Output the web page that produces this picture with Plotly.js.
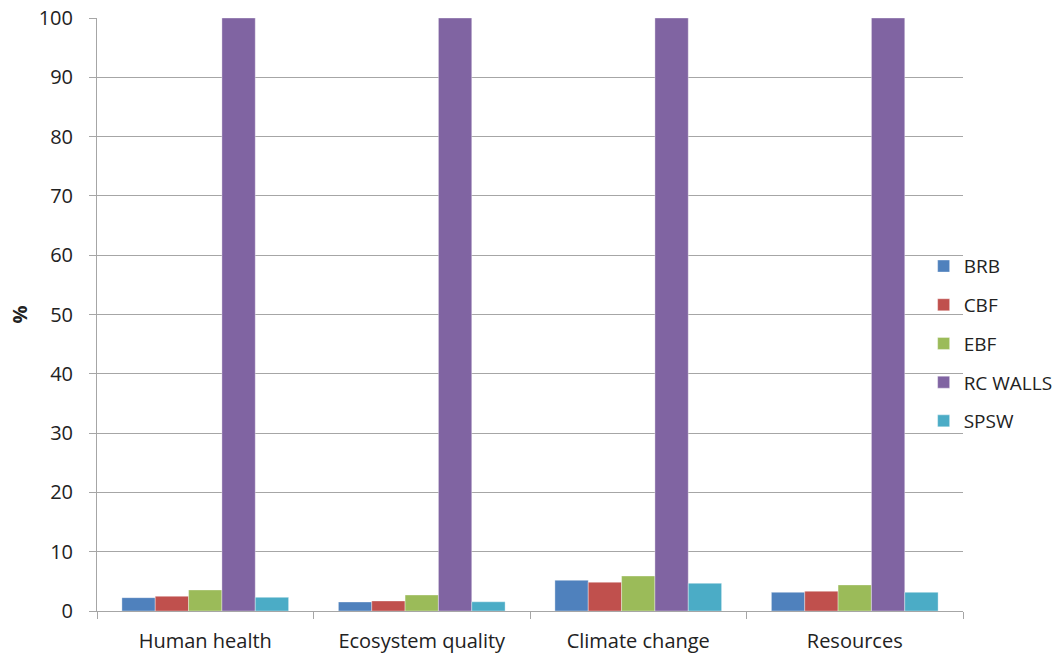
<!DOCTYPE html>
<html>
<head>
<meta charset="utf-8">
<script src="https://cdn.plot.ly/plotly-3.0.1.min.js"></script>
<style>html,body{margin:0;padding:0;background:#fff;}#chart{width:1058px;height:654px;}</style>
</head>
<body>
<div id="chart"></div>
<script>
const categories = ["Human health", "Ecosystem quality", "Climate change", "Resources"];
const seriesNames = ["BRB", "CBF", "EBF", "RC WALLS", "SPSW"];
const BRB = [2.25, 1.52, 5.18, 3.15];
const CBF = [2.48, 1.69, 4.85, 3.33];
const EBF = [3.55, 2.7, 5.9, 4.4];
const RC_WALLS = [100, 100, 100, 100];
const SPSW = [2.3, 1.55, 4.67, 3.15];
const yTicks = [0, 10, 20, 30, 40, 50, 60, 70, 80, 90, 100];

const seriesValues = [BRB, CBF, EBF, RC_WALLS, SPSW];
const colors = ["#4F81BD", "#C0504D", "#9BBB59", "#8064A2", "#4BACC6"];

const traces = seriesNames.map((n, i) => ({
  type: "bar",
  name: n,
  x: categories,
  y: seriesValues[i],
  legendgroup: n,
  marker: {color: colors[i], line: {color: "rgba(255,255,255,0.6)", width: 0.6}}
}));

const fam = "Open Sans, Liberation Sans, sans-serif";
const font = {family: fam, size: 20, color: "#222"};

const layout = {
  width: 1058, height: 654,
  margin: {l: 97, r: 95, t: 18, b: 43, autoexpand: false},
  paper_bgcolor: "#fff", plot_bgcolor: "#fff",
  font: font,
  barmode: "group",
  bargap: 0.23,
  bargroupgap: 0,
  showlegend: true,
  legend: {
    xref: "container", yref: "container",
    x: 0.873, y: 0.622, xanchor: "left", yanchor: "top",
    font: {family: fam, size: 19, color: "#222"},
    tracegroupgap: 11,
    itemwidth: 30,
    bgcolor: "rgba(0,0,0,0)"
  },
  xaxis: {
    showline: true, linecolor: "#a6a6a6", linewidth: 1,
    ticks: "outside", tickson: "boundaries", ticklen: 7, tickcolor: "#a6a6a6",
    showgrid: false, zeroline: false,
    ticklabelstandoff: 12,
    tickfont: {family: fam, size: 20, color: "#222"}
  },
  yaxis: {
    range: [0, 100], tickvals: yTicks, ticktext: yTicks.map(String),
    showline: true, linecolor: "#a6a6a6", linewidth: 1,
    ticks: "outside", ticklen: 7, tickcolor: "#a6a6a6",
    showgrid: true, gridcolor: "#a6a6a6", gridwidth: 1,
    zeroline: false,
    ticklabelstandoff: 12,
    tickfont: {family: fam, size: 20, color: "#222"},
    title: {text: "%", font: {family: fam, size: 20, color: "#222", weight: "bold"}, standoff: 5}
  }
};

Plotly.newPlot("chart", traces, layout, {displayModeBar: false, staticPlot: true});
</script>
</body>
</html>
